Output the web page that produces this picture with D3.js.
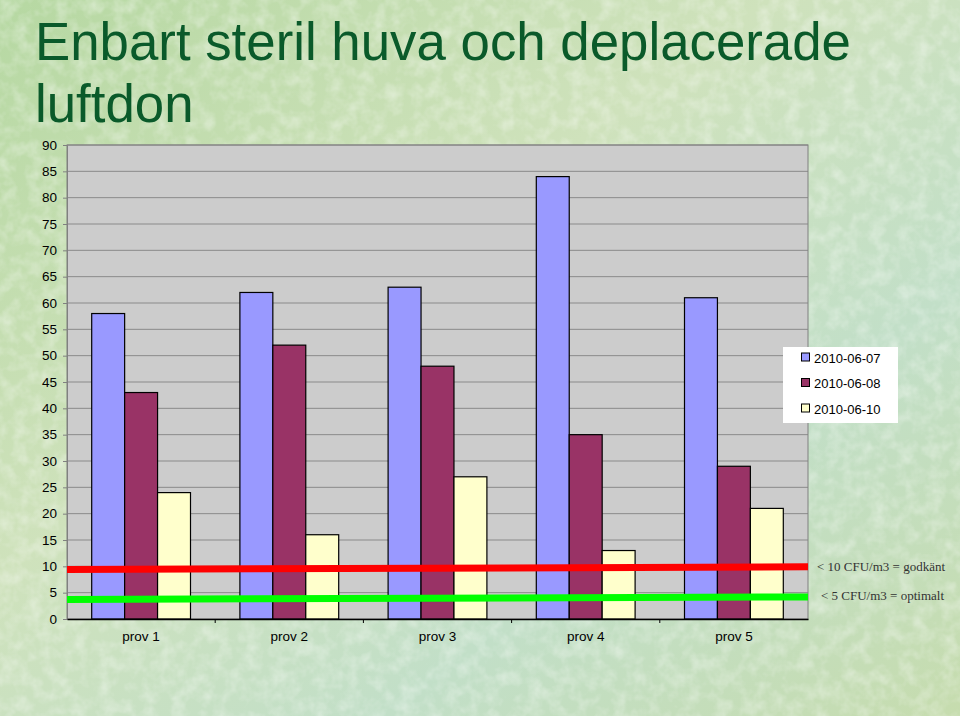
<!DOCTYPE html>
<html><head><meta charset="utf-8">
<script src="https://cdn.jsdelivr.net/npm/d3@7"></script>
<style>body{margin:0;}svg{display:block;}</style>
</head><body>
<script>
const categories = ["prov 1","prov 2","prov 3","prov 4","prov 5"];
const seriesNames = ["2010-06-07","2010-06-08","2010-06-10"];
const s0607 = [58,62,63,84,61];
const s0608 = [43,52,48,35,29];
const s0610 = [24,16,27,13,21];
const yTicks = [0,5,10,15,20,25,30,35,40,45,50,55,60,65,70,75,80,85,90];
const redLine = [9.4,9.9];   // drawn threshold band (start,end)
const greenLine = [3.7,4.2];
const notes = ["< 10 CFU/m3 = godkänt","< 5 CFU/m3 = optimalt"];
const titleLines = ["Enbart steril huva och deplacerade","luftdon"];

const W=960,H=716;
const svg=d3.select("body").append("svg").attr("width",W).attr("height",H);
const defs=svg.append("defs");
const lg=defs.append("linearGradient").attr("id","bg").attr("x1","0").attr("y1","0").attr("x2","1").attr("y2","1");
lg.append("stop").attr("offset","0").attr("stop-color","#b6d8a2");
lg.append("stop").attr("offset","0.4").attr("stop-color","#cfe2bc");
lg.append("stop").attr("offset","0.7").attr("stop-color","#c2dfc8");
lg.append("stop").attr("offset","1").attr("stop-color","#c6dcae");
const f=defs.append("filter").attr("id","tex").attr("x",0).attr("y",0).attr("width","100%").attr("height","100%");
f.append("feTurbulence").attr("type","fractalNoise").attr("baseFrequency","0.07").attr("numOctaves",3).attr("seed",4).attr("result","n");
f.append("feColorMatrix").attr("in","n").attr("type","matrix")
 .attr("values","0 0 0 0 1  0 0 0 0 1  0 0 0 0 1  0 0 0 -1.8 1.1").attr("result","a");
svg.append("rect").attr("width",W).attr("height",H).attr("fill","url(#bg)");
svg.append("rect").attr("width",W).attr("height",H).attr("fill","#fff").attr("filter","url(#tex)").attr("opacity",0.4);

// title
svg.append("g").selectAll("text").data(titleLines).join("text")
 .attr("x",35).attr("y",(d,i)=>60+i*62)
 .attr("font-family","Liberation Sans, Arial, sans-serif").attr("font-size",52.8)
 .attr("fill","#0a5a2a").text(d=>d);

const L=67,R=808,T=145,B=619;
const x=d3.scaleBand().domain(categories).range([L,R]).padding(0);
const y=d3.scaleLinear().domain([0,90]).range([B,T]);
const bw=x.bandwidth()/4.5;
const sub=d3.scaleBand().domain(seriesNames).range([0,bw*3]);
const colors=d3.scaleOrdinal().domain(seriesNames).range(["#9999ff","#993366","#ffffcc"]);

svg.append("rect").attr("x",L).attr("y",T).attr("width",R-L).attr("height",B-T).attr("fill","#cccccc");
svg.append("g").selectAll("line").data(yTicks.filter(d=>d>0)).join("line")
 .attr("x1",L).attr("x2",R).attr("y1",d=>y(d)).attr("y2",d=>y(d)).attr("stroke","#8a8a8a").attr("stroke-width",1);
svg.append("rect").attr("x",L).attr("y",T).attr("width",R-L).attr("height",B-T).attr("fill","none").attr("stroke","#808080");

const data=[s0607,s0608,s0610];
const gBars=svg.append("g");
seriesNames.forEach((s,si)=>{
 gBars.selectAll(null).data(categories).join("rect")
  .attr("x",(c)=>x(c)+bw*0.75+sub(s)).attr("width",bw)
  .attr("y",(c,i)=>y(data[si][i])).attr("height",(c,i)=>B-y(data[si][i]))
  .attr("fill",colors(s)).attr("stroke","#000").attr("stroke-width",1.2);
});

// y axis
const ya=svg.append("g").attr("transform",`translate(${L},0)`)
 .call(d3.axisLeft(y).tickValues(yTicks).tickSize(4).tickPadding(6));
ya.select(".domain").attr("stroke","#808080");
ya.selectAll(".tick line").attr("stroke","#808080");
ya.selectAll("text").attr("font-family","Liberation Sans, Arial, sans-serif").attr("font-size",13.5).attr("fill","#000");
// x axis
const xa=svg.append("g").attr("transform",`translate(0,${B})`)
 .call(d3.axisBottom(x).tickSize(0).tickPadding(12));
xa.select(".domain").attr("stroke","#000").attr("stroke-width",1.5);
xa.selectAll("text").attr("font-family","Liberation Sans, Arial, sans-serif").attr("font-size",13.5).attr("fill","#000");
svg.append("g").selectAll("line").data(categories.slice(1)).join("line")
 .attr("x1",c=>x(c)).attr("x2",c=>x(c)).attr("y1",B).attr("y2",B+4).attr("stroke","#000");

// threshold lines
svg.append("line").attr("x1",L).attr("x2",R).attr("y1",y(redLine[0])).attr("y2",y(redLine[1]))
 .attr("stroke","#ff0000").attr("stroke-width",7);
svg.append("line").attr("x1",L).attr("x2",R).attr("y1",y(greenLine[0])).attr("y2",y(greenLine[1]))
 .attr("stroke","#00ff00").attr("stroke-width",7);
svg.append("g").selectAll("text").data(notes).join("text")
 .attr("x",(d,i)=>i?821:817).attr("y",(d,i)=>i?600:571)
 .attr("font-family","Liberation Serif, Times New Roman, serif").attr("font-size",13).attr("fill","#333").text(d=>d);

// legend
const lgG=svg.append("g");
lgG.append("rect").attr("x",783).attr("y",347).attr("width",115).attr("height",76).attr("fill","#fff");
seriesNames.forEach((s,i)=>{
 lgG.append("rect").attr("x",801.5).attr("y",353+i*25.5).attr("width",8).attr("height",8)
  .attr("fill",colors(s)).attr("stroke","#000");
 lgG.append("text").attr("x",814).attr("y",362.5+i*25.5).attr("font-family","Liberation Sans, Arial, sans-serif")
  .attr("font-size",13).attr("fill","#000").text(s);
});
</script>
</body></html>
